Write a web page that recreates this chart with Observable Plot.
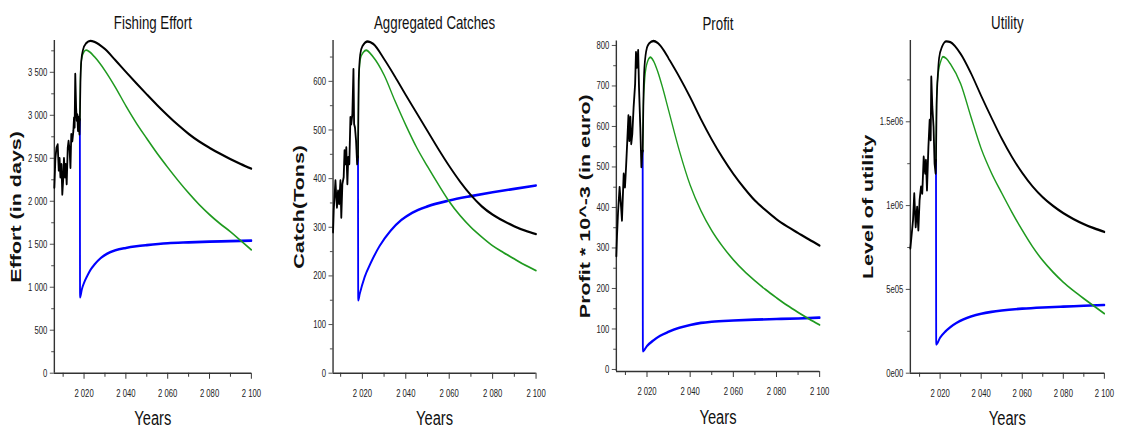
<!DOCTYPE html>
<html><head><meta charset="utf-8">
<script src="https://cdn.jsdelivr.net/npm/d3@7"></script>
<script src="https://cdn.jsdelivr.net/npm/@observablehq/plot@0.6"></script>
<style>
body{margin:0;background:#fff;}
#chart{position:relative;width:1122px;height:439px;overflow:hidden;background:#fff;}
</style></head><body><div id="chart"></div>
<script>
// ---------------- DATA ----------------
const yearTicksMajor = [2020, 2040, 2060, 2080, 2100];
const yearTicksMinor = [2010, 2030, 2050, 2070, 2090];

// Fishing effort (days)
const effortTicks = [0, 500, 1000, 1500, 2000, 2500, 3000, 3500];
const effortMinorTicks = [250, 750, 1250, 1750, 2250, 2750, 3250, 3750];
const effortHistory = [[2005.8,2160],[2006.3,2500],[2006.8,2620],[2007.4,2660],[2007.9,2360],[2008.3,2500],[2008.7,2280],[2009.2,2430],[2009.6,2080],[2010.0,2240],[2010.4,2500],[2010.9,2280],[2011.2,2430],[2011.7,2200],[2012.2,2620],[2012.6,2700],[2013.1,2590],[2013.5,2390],[2013.9,2780],[2014.4,2700],[2014.9,2820],[2015.2,2970],[2015.5,2860],[2015.8,3480],[2016.2,3090],[2016.5,2940],[2016.8,3010],[2017.1,2820],[2017.4,2980],[2017.8,2780],[2018.0,2950]];
const effortBlack = [[2018.0,2950],[2018.3,3400],[2018.7,3640],[2019.5,3760],[2021,3838],[2023,3866],[2025,3855],[2030,3770],[2035,3640],[2040,3505],[2045,3372],[2050,3243],[2055,3117],[2060,2998],[2065,2886],[2070,2784],[2075,2696],[2080,2622],[2085,2553],[2090,2490],[2095,2433],[2100,2380]];
const effortGreen = [[2018.0,2950],[2018.2,3350],[2018.5,3580],[2019.0,3670],[2020.0,3740],[2021.0,3758],[2022.5,3740],[2025,3680],[2030,3520],[2035,3325],[2040,3110],[2045,2910],[2050,2730],[2055,2555],[2060,2394],[2065,2240],[2070,2095],[2075,1962],[2080,1845],[2085,1740],[2090,1645],[2095,1540],[2100,1435]];
const effortBlue = [[2018.0,2950],[2018.1,885],[2019,980],[2020,1050],[2021.5,1130],[2023,1200],[2025,1265],[2028,1340],[2031,1390],[2035,1430],[2040,1457],[2045,1476],[2050,1490],[2060,1512],[2070,1522],[2080,1530],[2090,1536],[2100,1542]];

// Aggregated catches (tons)
const catchTicks = [0, 100, 200, 300, 400, 500, 600];
const catchMinorTicks = [50, 150, 250, 350, 450, 550, 650];
const catchHistory = [[2006.5,290],[2006.8,334],[2007.6,396],[2008.0,362],[2008.3,341],[2008.8,375],[2009.3,348],[2009.9,396],[2010.3,320],[2010.8,389],[2011.4,403],[2011.8,458],[2012.3,430],[2012.6,464],[2013.1,389],[2013.5,444],[2014.0,430],[2014.5,526],[2014.9,512],[2015.4,533],[2015.9,625],[2016.2,512],[2016.6,505],[2017.1,478],[2017.6,430],[2018.0,445]];
const catchBlack = [[2018.0,445],[2018.3,600],[2019.0,655],[2020,672],[2022.5,682],[2025,677],[2030,646],[2035,610],[2040,572],[2045,535],[2050,498],[2055,461],[2060,426],[2065,394],[2070,366],[2075,343],[2080,326],[2085,313],[2090,302],[2095,293],[2100,286]];
const catchGreen = [[2018.0,445],[2018.2,560],[2018.5,615],[2019.2,648],[2020.5,660],[2021.7,664],[2025,650],[2030,613],[2035,560],[2040,510],[2045,464],[2050,425],[2055,388],[2060,353],[2065,324],[2070,300],[2075,280],[2080,262],[2085,248],[2090,235],[2095,222],[2100,211]];
const catchBlue = [[2018.0,445],[2018.1,150],[2018.8,163],[2021,197],[2024,228],[2028,262],[2033,293],[2038,315],[2043,330],[2050,343],[2060,355],[2070,364],[2080,372],[2090,379],[2100,386]];

// Profit (10^3 euro)
const profitTicks = [0, 100, 200, 300, 400, 500, 600, 700, 800];
const profitMinorTicks = [50, 150, 250, 350, 450, 550, 650, 750];
const profitHistory = [[2005.8,280],[2006.1,330],[2006.6,390],[2007.3,450],[2008.0,401],[2008.4,368],[2009.2,483],[2009.8,450],[2010.3,500],[2010.8,557],[2011.4,627],[2011.8,565],[2012.3,623],[2012.7,557],[2013.2,582],[2013.8,648],[2014.5,705],[2014.9,783],[2015.4,746],[2015.9,788],[2016.3,697],[2016.9,598],[2017.4,500],[2017.8,533],[2018.0,540]];
const profitBlack = [[2018.0,540],[2018.4,680],[2018.8,745],[2020,795],[2021,805],[2023,811],[2025,806],[2028,786],[2030,768],[2035,722],[2040,672],[2045,618],[2050,568],[2055,523],[2060,483],[2065,448],[2070,417],[2075,393],[2080,371],[2085,353],[2090,337],[2095,321],[2100,306]];
const profitGreen = [[2018.0,540],[2018.3,650],[2018.8,705],[2019.8,752],[2021.6,771],[2023,762],[2025,735],[2027,700],[2030,640],[2035,540],[2040,455],[2045,392],[2050,343],[2055,304],[2060,271],[2065,243],[2070,219],[2075,197],[2080,177],[2085,158],[2090,141],[2095,125],[2100,110]];
const profitBlue = [[2018.0,540],[2018.1,45],[2020,58],[2023,72],[2026,83],[2030,93],[2035,103],[2040,110],[2045,115],[2050,118],[2060,121],[2070,123],[2080,124.5],[2090,126],[2100,128]];

// Utility
const utilityTicks = [0, 500000, 1000000, 1500000];
const utilityMinorTicks = [250000, 750000, 1250000, 1750000];
const utilityHistory = [[2005.5,745000],[2006.8,912000],[2007.4,1072000],[2008.1,872000],[2008.8,992000],[2009.4,853000],[2010.0,1032000],[2010.7,1112000],[2011.3,1072000],[2012.0,1291000],[2012.7,1192000],[2013.1,1271000],[2013.6,1092000],[2014.3,1351000],[2014.9,1510000],[2015.4,1391000],[2015.7,1769000],[2016.2,1590000],[2016.8,1470000],[2017.3,1251000],[2017.8,1192000],[2018.0,1270000]];
const utilityBlack = [[2018.0,1270000],[2018.3,1600000],[2019,1800000],[2019.5,1879000],[2021,1950000],[2023,1980000],[2025,1975000],[2030,1905000],[2035,1790000],[2040,1655000],[2045,1525000],[2050,1400000],[2055,1290000],[2060,1195000],[2065,1115000],[2070,1050000],[2075,998000],[2080,955000],[2085,920000],[2090,890000],[2095,865000],[2100,843000]];
const utilityGreen = [[2018.0,1270000],[2018.3,1650000],[2019.2,1800000],[2020.3,1860000],[2021.4,1888000],[2023,1878000],[2025,1845000],[2030,1727000],[2035,1530000],[2040,1340000],[2045,1195000],[2050,1075000],[2055,960000],[2060,853000],[2065,755000],[2070,672000],[2075,603000],[2080,543000],[2085,492000],[2090,445000],[2095,400000],[2100,355000]];
const utilityBlue = [[2018.0,1270000],[2018.1,172000],[2020,212000],[2022.5,248000],[2025,275000],[2028,300000],[2031.5,322000],[2035,338000],[2040,355000],[2045,366000],[2050,374000],[2060,385000],[2070,392000],[2080,397000],[2090,402000],[2100,407000]];

// ---------------- RENDER ----------------
const SQ = 0.7; // horizontal compression of the original figure
const spaceLocale = d3.formatLocale({decimal: ".", thousands: " ", grouping: [3], currency: ["", ""]});
const fmtSpace = spaceLocale.format(",");
const fmtExp = v => {
  if (v === 0) return "0e00";
  const e = Math.floor(Math.log10(v));
  const m = +(v / Math.pow(10, e)).toFixed(2);
  return `${m}e${String(e).padStart(2, "0")}`;
};
const FONT = "Arial, 'Liberation Sans', Helvetica, sans-serif";

function panel(cfg) {
  const H = 439;
  const W = cfg.width / SQ;
  const ml = (cfg.plotLeft - cfg.left) / SQ;
  const mr = (cfg.left + cfg.width - cfg.plotRight) / SQ;
  const mt = cfg.top, mb = H - cfg.bottom;
  const X = d => d[0], Y = d => d[1];
  const svg = Plot.plot({
    width: W, height: H,
    marginLeft: ml, marginRight: mr, marginTop: mt, marginBottom: mb,
    x: {domain: cfg.xDomain, axis: null},
    y: {domain: cfg.yDomain, axis: null},
    style: {fontFamily: FONT, background: "white", color: "#222"},
    marks: [
      Plot.ruleX([cfg.xDomain[0]], {stroke: "#333", strokeWidth: 2}),
      Plot.ruleY([cfg.yDomain[0]], {stroke: "#333", strokeWidth: 1.4}),
      Plot.axisY({ticks: cfg.yTicks, tickFormat: cfg.yFormat, tickSize: 6, tickPadding: 4, fontSize: 11, label: null, stroke: "#333", fill: "#222"}),
      Plot.axisY({ticks: cfg.yMinor, tickFormat: () => "", tickSize: 4, label: null, stroke: "#333"}),
      Plot.axisX({ticks: yearTicksMajor, tickFormat: fmtSpace, tickSize: 6, tickPadding: 10, fontSize: 11, label: null, stroke: "#333", fill: "#222", strokeWidth: 1.4}),
      Plot.axisX({ticks: yearTicksMinor, tickFormat: () => "", tickSize: 4, label: null, stroke: "#333", strokeWidth: 1.4}),
      Plot.line(cfg.blue, {x: X, y: Y, stroke: "#0000ff", strokeWidth: 2.6, curve: "monotone-x"}),
      Plot.line(cfg.green, {x: X, y: Y, stroke: "#1f9a1f", strokeWidth: 1.9, curve: "monotone-x"}),
      Plot.line(cfg.black, {x: X, y: Y, stroke: "#000", strokeWidth: 2.4, curve: "monotone-x"}),
      Plot.line(cfg.history, {x: X, y: Y, stroke: "#000", strokeWidth: 2.6}),
      Plot.text([cfg.title], {text: d => d, frameAnchor: "top", textAnchor: "middle", dy: -25, fontSize: 19, fill: "#111"}),
      Plot.text(["Years"], {text: d => d, frameAnchor: "bottom", textAnchor: "middle", dy: 52, fontSize: 21, fill: "#111"}),
      Plot.text([cfg.ylabel], {text: d => d, frameAnchor: "left", textAnchor: "middle", dx: cfg.ylabelDx / SQ, rotate: -90, fontSize: 21.5, fontWeight: "bold", fill: "#111"})
    ]
  });
  svg.setAttribute("width", cfg.width);
  svg.setAttribute("height", H);
  svg.setAttribute("preserveAspectRatio", "none");
  svg.style.cssText += `;position:absolute;left:${cfg.left}px;top:0;width:${cfg.width}px;height:${H}px;max-width:none;overflow:visible;`;
  document.getElementById("chart").appendChild(svg);
}

panel({left: 0, width: 285, plotLeft: 54, plotRight: 251, top: 40, bottom: 372.7,
  xDomain: [2005.8, 2100], yDomain: [0, 3870], yTicks: effortTicks, yMinor: effortMinorTicks, yFormat: fmtSpace,
  title: "Fishing Effort", ylabel: "Effort (in days)", ylabelDx: -38,
  history: effortHistory, black: effortBlack, green: effortGreen, blue: effortBlue});
panel({left: 285, width: 275, plotLeft: 332.7, plotRight: 535.7, top: 40, bottom: 372.7,
  xDomain: [2006.5, 2100], yDomain: [0, 684], yTicks: catchTicks, yMinor: catchMinorTicks, yFormat: fmtSpace,
  title: "Aggregated Catches", ylabel: "Catch(Tons)", ylabelDx: -34,
  history: catchHistory, black: catchBlack, green: catchGreen, blue: catchBlue});
panel({left: 560, width: 280, plotLeft: 616, plotRight: 819.3, top: 40.5, bottom: 371,
  xDomain: [2005.8, 2100], yDomain: [-5, 811], yTicks: profitTicks, yMinor: profitMinorTicks, yFormat: fmtSpace,
  title: "Profit", ylabel: "Profit * 10^-3 (in euro)", ylabelDx: -31,
  history: profitHistory, black: profitBlack, green: profitGreen, blue: profitBlue});
panel({left: 840, width: 282, plotLeft: 910, plotRight: 1104, top: 40, bottom: 372.7,
  xDomain: [2005.5, 2100], yDomain: [0, 1985000], yTicks: utilityTicks, yMinor: utilityMinorTicks, yFormat: fmtExp,
  title: "Utility", ylabel: "Level of utility", ylabelDx: -42,
  history: utilityHistory, black: utilityBlack, green: utilityGreen, blue: utilityBlue});
</script>
</body></html>
